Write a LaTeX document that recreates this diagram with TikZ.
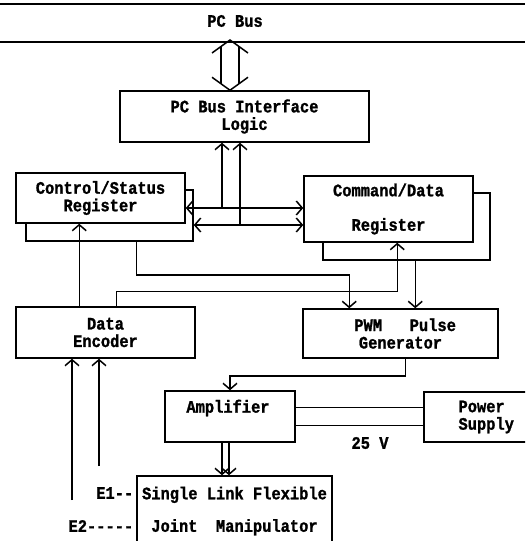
\documentclass[tikz,border=0pt]{standalone}
\usepackage{fontspec}
\setmainfont{Liberation Mono}[FakeStretch=0.88, Ligatures=TeXOff, BoldFeatures={FakeBold=1.2}]
\usetikzlibrary{arrows.meta,calc}
\tikzset{
  lbl/.style={font=\bfseries\fontsize{17.5}{17.5}\selectfont},
  box/.style={draw, fill=white, inner sep=0pt, align=center, lbl},
  txt/.style={inner sep=0pt, align=center, lbl},
  ar/.style={-{Straight Barb[length=6pt,width=14pt]}},
  bar/.style={{Straight Barb[length=6pt,width=14pt]}-{Straight Barb[length=6pt,width=14pt]}}
}
\begin{document}
\begin{tikzpicture}[x=1pt,y=-1pt,line width=1.5pt]
\useasboundingbox (0,0) rectangle (525,541);
\clip (0,0) rectangle (525,541);
% bus
\coordinate (busL1) at (0,4); \coordinate (busR1) at (525,4);
\coordinate (busL2) at (0,42); \coordinate (busR2) at (525,42);
\draw (busL1) -- (busR1);
\draw (busL2) -- (busR2);
\node[txt] (pcbus) at (235,21) {PC Bus};
% boxes
\node[box, minimum width=249pt, minimum height=51pt] (iface) at (244.5,116.5) {PC Bus Interface\\Logic};
\node[box, minimum width=167pt, minimum height=51pt] (csb) at (109.5,215.5) {};
\node[box, minimum width=169pt, minimum height=50pt] (cs) at (100.5,198) {Control/Status\\Register};
\node[box, minimum width=167pt, minimum height=67pt] (cdb) at (406.5,226.5) {};
\node[box, minimum width=169pt, minimum height=66pt] (cd) at (388.5,209) {Command/Data\\[17pt]Register};
\node[box, minimum width=179pt, minimum height=51pt] (enc) at (105.5,332.5) {Data\\Encoder};
\node[box, minimum width=195pt, minimum height=49pt] (pwm) at (400.5,333.5) {\ PWM\ \ \ Pulse\\Generator};
\node[box, minimum width=130pt, minimum height=51pt] (amp) at (230,416.5) {};
\node[txt] (ampt) at (228,408) {Amplifier};
\node[box, minimum width=106pt, minimum height=50pt] (ps) at (477,417) {\ Power\\\ \ Supply};
\node[box, minimum width=195pt, minimum height=70pt] (man) at (234.5,511) {Single Link Flexible\\[15pt]Joint\ \ Manipulator};
\node[txt, anchor=east] (e1) at (134,493) {E1--};
\node[txt, anchor=east] (e2) at (134,526) {E2-----};
\node[txt] (v25) at (370,443) {25 V};
% bus double arrow
\coordinate (bt) at (230,40);
\coordinate (bb) at (iface.north -| bt);
\draw ($(bt)+(-18,13)$) -- (bt) -- ($(bt)+(18,13)$);
\draw ($(bt)+(-9,6.5)$) -- ($(bb)+(-9,-6.5)$);
\draw ($(bt)+(9,6.5)$) -- ($(bb)+(9,-6.5)$);
\draw ($(bb)+(-18,-13)$) -- (bb) -- ($(bb)+(18,-13)$);
% interface to registers
\coordinate (j1) at (222,208);
\coordinate (j2) at (240,225);
\draw[ar] (j1) -- (j1 |- iface.south);
\draw[ar] (j2) -- (j2 |- iface.south);
\draw[bar] (cs.east |- j1) -- (cd.west |- j1);
\draw[bar] (csb.east |- j2) -- (cd.west |- j2);
% encoder to control/status
\coordinate (ea) at ($(enc.north west)+(64,0)$);
\draw[ar] (ea) -- (ea |- cs.south);
% control/status to pwm
\coordinate (c4) at ($(csb.south west)+(111,0)$);
\draw[ar] (c4) -- ++(0,33) -| ($(pwm.north west)+(47,0)$);
% encoder to command/data
\coordinate (e5) at ($(enc.north west)+(101,0)$);
\draw[ar] (e5) -- ++(0,-15) -| ($(cd.south west)+(94,0)$);
% command/data to pwm
\coordinate (c6) at ($(cdb.south west)+(93,0)$);
\draw[ar] (c6) -- (c6 |- pwm.north);
% pwm to amplifier
\coordinate (p7) at ($(pwm.south west)+(103,0)$);
\draw[ar] (p7) -- ++(0,17) -| (amp.north);
% amplifier to power supply
\coordinate (a1) at ($(amp.north east)+(0,17)$);
\coordinate (a2) at ($(amp.north east)+(0,35)$);
\draw (a1) -- (a1 -| ps.west);
\draw (a2) -- (a2 -| ps.west);
% amplifier to manipulator
\coordinate (m1) at ($(amp.south)+(-8,0)$);
\coordinate (m2) at ($(amp.south)+(-1,0)$);
\draw[ar] (m1) -- (m1 |- man.north);
\draw[ar] (m2) -- (m2 |- man.north);
% sensor lines to encoder
\coordinate (l1) at (72,500);
\coordinate (l2) at (99,466);
\draw[ar] (l1) -- (l1 |- enc.south);
\draw[ar] (l2) -- (l2 |- enc.south);
\end{tikzpicture}
\end{document}
